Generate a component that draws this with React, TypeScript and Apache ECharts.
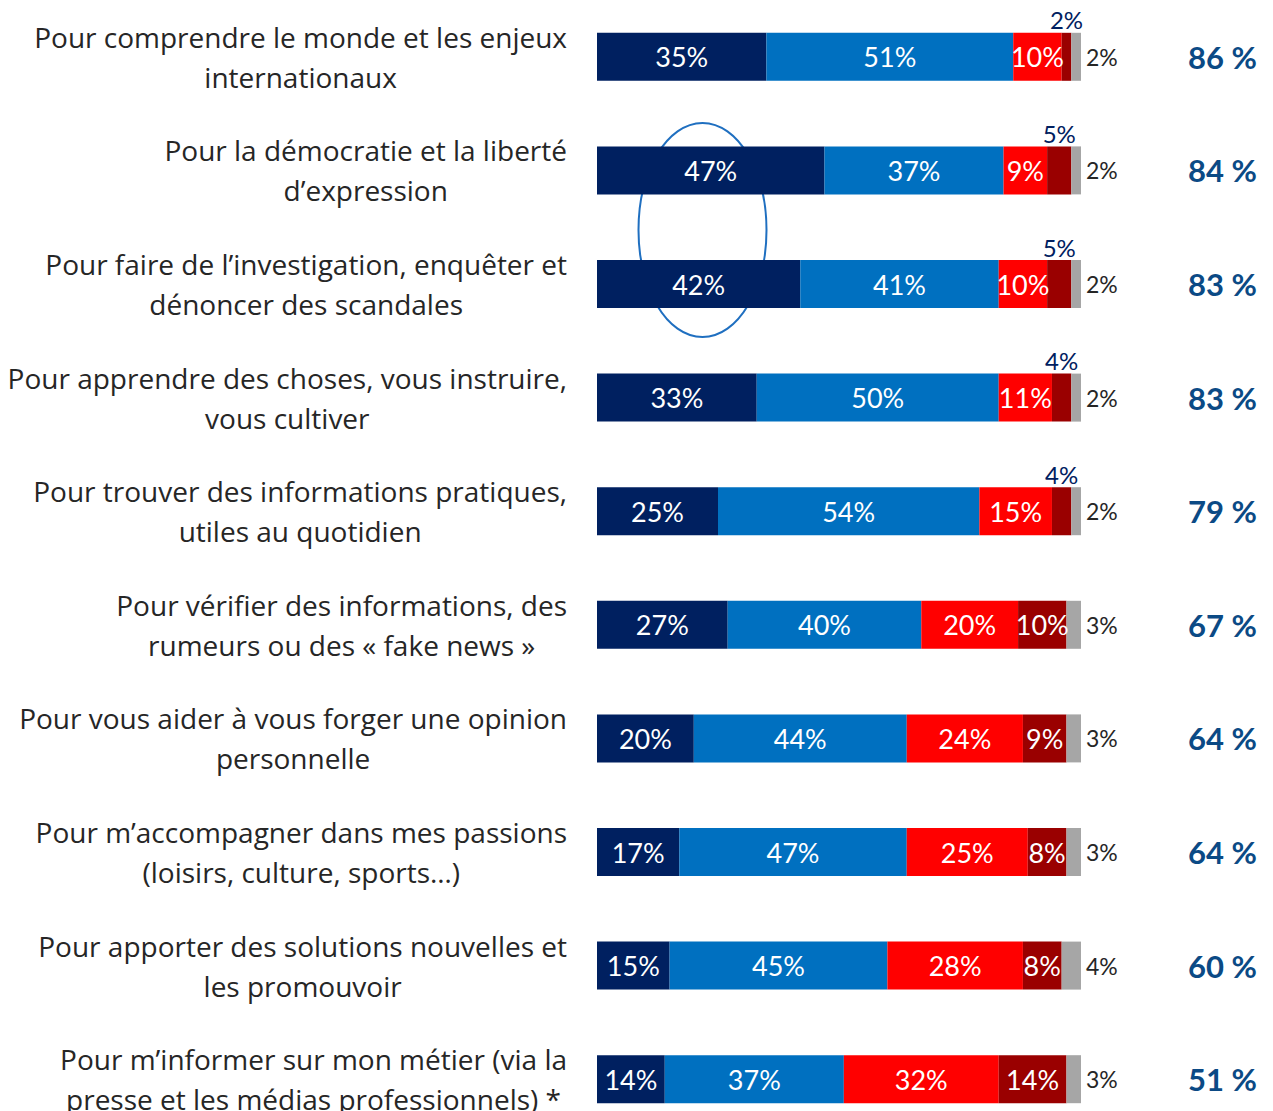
import React, { useEffect, useRef } from "react";
import * as echarts from "echarts";

const categories = [
  "Pour comprendre le monde et les enjeux\ninternationaux",
  "Pour la démocratie et la liberté\nd’expression",
  "Pour faire de l’investigation, enquêter et\ndénoncer des scandales",
  "Pour apprendre des choses, vous instruire,\nvous cultiver",
  "Pour trouver des informations pratiques,\nutiles au quotidien",
  "Pour vérifier des informations, des\nrumeurs ou des « fake news »",
  "Pour vous aider à vous forger une opinion\npersonnelle",
  "Pour m’accompagner dans mes passions\n(loisirs, culture, sports…)",
  "Pour apporter des solutions nouvelles et\nles promouvoir",
  "Pour m’informer sur mon métier (via la\npresse et les médias professionnels) *",
];

const tresUtile = [35, 47, 42, 33, 25, 27, 20, 17, 15, 14];
const plutotUtile = [51, 37, 41, 50, 54, 40, 44, 47, 45, 37];
const plutotPasUtile = [10, 9, 10, 11, 15, 20, 24, 25, 28, 32];
const pasDuToutUtile = [2, 5, 5, 4, 4, 10, 9, 8, 8, 14];
const nsp = [2, 2, 2, 2, 2, 3, 3, 3, 4, 3];
const totals = ["86 %", "84 %", "83 %", "83 %", "79 %", "67 %", "64 %", "64 %", "60 %", "51 %"];

const FONT = "Lato, 'Noto Sans', sans-serif";
const CAT_FONT = "'Open Sans', 'Noto Sans', sans-serif";

export default function App() {
  const ref = useRef<HTMLDivElement>(null);
  useEffect(() => {
    document.body.style.margin = "0";
    const chart = echarts.init(ref.current!, null, { renderer: "svg" });
    const insideLabel = {
      show: true,
      position: "inside",
      color: "#ffffff",
      fontSize: 27,
      fontFamily: FONT,
      formatter: "{c}%",
    };
    chart.setOption({
      animation: false,
      textStyle: { fontFamily: FONT },
      grid: { left: 597, width: 484, top: 0, height: 1136 },
      xAxis: { type: "value", min: 0, max: 100, show: false },
      yAxis: [
        {
          type: "category",
          data: categories,
          inverse: true,
          axisLine: { show: false },
          axisTick: { show: false },
          axisLabel: {
            margin: 30,
            align: "right",
            formatter: (v: string) =>
              v
                .split("\n")
                .map((l) => `{c|${l}}`)
                .join("\n"),
            rich: {
              c: {
                align: "center",
                fontSize: 28,
                lineHeight: 40,
                color: "#262626",
                fontFamily: CAT_FONT,
              },
            },
          },
        },
        {
          type: "category",
          data: totals,
          inverse: true,
          position: "right",
          axisLine: { show: false },
          axisTick: { show: false },
          axisLabel: {
            margin: 107,
            align: "left",
            fontSize: 31,
            fontWeight: "bold",
            color: "#0b4a85",
            fontFamily: FONT,
          },
        },
      ],
      series: [
        {
          type: "bar",
          stack: "t",
          barWidth: 48,
          data: tresUtile,
          itemStyle: { color: "#002060" },
          label: insideLabel,
        },
        {
          type: "bar",
          stack: "t",
          barWidth: 48,
          data: plutotUtile,
          itemStyle: { color: "#0070C0" },
          label: insideLabel,
        },
        {
          type: "bar",
          stack: "t",
          barWidth: 48,
          data: plutotPasUtile,
          itemStyle: { color: "#FF0000" },
          label: insideLabel,
        },
        {
          type: "bar",
          stack: "t",
          barWidth: 48,
          data: pasDuToutUtile.map((v, i) =>
            i < 5
              ? {
                  value: v,
                  label: {
                    show: true,
                    position: "top",
                    distance: 1,
                    color: "#002060",
                    fontSize: 24,
                    fontFamily: FONT,
                    formatter: "{c}%",
                  },
                }
              : v
          ),
          itemStyle: { color: "#9A0000" },
          label: insideLabel,
        },
        {
          type: "bar",
          stack: "t",
          barWidth: 48,
          data: nsp,
          itemStyle: { color: "#A6A6A6" },
          label: {
            show: true,
            position: "right",
            distance: 5,
            color: "#262626",
            fontSize: 23,
            fontFamily: FONT,
            formatter: "{c}%",
          },
        },
      ],
      graphic: [
        {
          type: "ellipse",
          shape: { cx: 702.5, cy: 230, rx: 64, ry: 107 },
          style: { fill: "none", stroke: "#1F6FC0", lineWidth: 2 },
          silent: true,
        },
      ],
    });
    return () => chart.dispose();
  }, []);
  return (
    <div style={{ width: 1273, height: 1111, overflow: "hidden" }}>
      <div ref={ref} style={{ width: 1273, height: 1140 }} />
    </div>
  );
}
